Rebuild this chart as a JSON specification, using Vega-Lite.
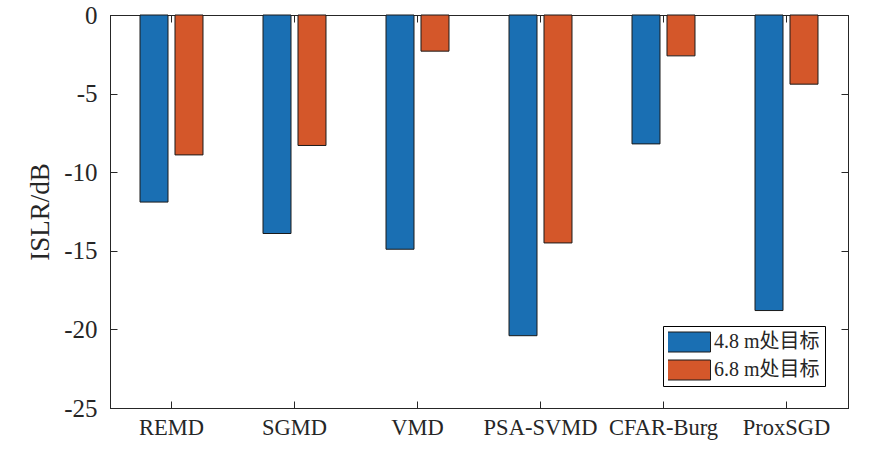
{
  "$schema": "https://vega.github.io/schema/vega-lite/v6.json",
  "autosize": "none",
  "width": 738,
  "height": 393,
  "padding": {"left": 110, "top": 15, "right": 42, "bottom": 51},
  "background": "white",
  "data": {
    "values": [
      {"method": "REMD", "target": "4.8 m处目标", "islr": -11.9},
      {"method": "REMD", "target": "6.8 m处目标", "islr": -8.9},
      {"method": "SGMD", "target": "4.8 m处目标", "islr": -13.9},
      {"method": "SGMD", "target": "6.8 m处目标", "islr": -8.3},
      {"method": "VMD", "target": "4.8 m处目标", "islr": -14.9},
      {"method": "VMD", "target": "6.8 m处目标", "islr": -2.3},
      {"method": "PSA-SVMD", "target": "4.8 m处目标", "islr": -20.4},
      {"method": "PSA-SVMD", "target": "6.8 m处目标", "islr": -14.5},
      {"method": "CFAR-Burg", "target": "4.8 m处目标", "islr": -8.2},
      {"method": "CFAR-Burg", "target": "6.8 m处目标", "islr": -2.6},
      {"method": "ProxSGD", "target": "4.8 m处目标", "islr": -18.8},
      {"method": "ProxSGD", "target": "6.8 m处目标", "islr": -4.4}
    ]
  },
  "layer": [
    {
      "mark": {"type": "bar", "stroke": "#1a1a1a", "strokeWidth": 1},
      "encoding": {
        "x": {
          "field": "method", "type": "nominal",
          "sort": ["REMD", "SGMD", "VMD", "PSA-SVMD", "CFAR-Burg", "ProxSGD"],
          "scale": {"paddingInner": 0.488, "paddingOuter": 0.244},
          "axis": {
            "title": null, "labelAngle": 0, "orient": "bottom",
            "tickSize": -7, "labelPadding": 15,
            "labelFontSize": 22.5
          }
        },
        "xOffset": {
          "field": "target", "type": "nominal",
          "scale": {"paddingInner": 0.2, "paddingOuter": 0}
        },
        "y": {
          "field": "islr", "type": "quantitative",
          "scale": {"domain": [-25, 0], "nice": false},
          "axis": {
            "title": "ISLR/dB", "orient": "left",
            "values": [-25, -20, -15, -10, -5, 0],
            "labelExpr": "toString(datum.value)",
            "tickSize": -7, "labelPadding": 20,
            "labelFontSize": 25, "titleFontSize": 27, "titlePadding": 9
          }
        },
        "color": {
          "field": "target", "type": "nominal",
          "scale": {"domain": ["4.8 m处目标", "6.8 m处目标"], "range": ["#1A6FB3", "#D4572A"]},
          "legend": {
            "title": null, "orient": "none", "legendX": 553, "legendY": 311,
            "strokeColor": "black", "fillColor": "white", "padding": 5,
            "symbolType": "M-1.1,-0.5H1.1V0.5H-1.1Z", "symbolSize": 1600,
            "symbolStrokeColor": "#1a1a1a", "symbolStrokeWidth": 1, "symbolOpacity": 1,
            "clipHeight": 22, "labelFontSize": 20, "labelOffset": 5, "rowPadding": 6
          }
        }
      }
    },
    {
      "mark": {"type": "bar", "opacity": 0},
      "encoding": {
        "x": {
          "field": "method", "type": "nominal",
          "sort": ["REMD", "SGMD", "VMD", "PSA-SVMD", "CFAR-Burg", "ProxSGD"],
          "axis": {"title": null, "orient": "top", "labels": false, "tickSize": -7}
        },
        "xOffset": {"field": "target", "type": "nominal"},
        "y": {
          "field": "islr", "type": "quantitative",
          "axis": {"title": null, "orient": "right", "labels": false, "tickSize": -7,
                   "values": [-25, -20, -15, -10, -5, 0]}
        }
      }
    }
  ],
  "resolve": {"axis": {"x": "independent", "y": "independent"}},
  "config": {
    "font": "Liberation Serif, Noto Sans CJK SC",
    "view": {"stroke": "black", "strokeWidth": 1},
    "axis": {
      "grid": false,
      "domainColor": "#262626", "tickColor": "#262626", "labelColor": "#262626", "titleColor": "#262626",
      "labelFont": "Liberation Serif, Noto Sans CJK SC", "titleFont": "Liberation Serif",
      "titleFontWeight": "normal"
    },
    "legend": {"labelFont": "Liberation Serif, Noto Sans CJK SC", "labelColor": "#262626"}
  }
}
